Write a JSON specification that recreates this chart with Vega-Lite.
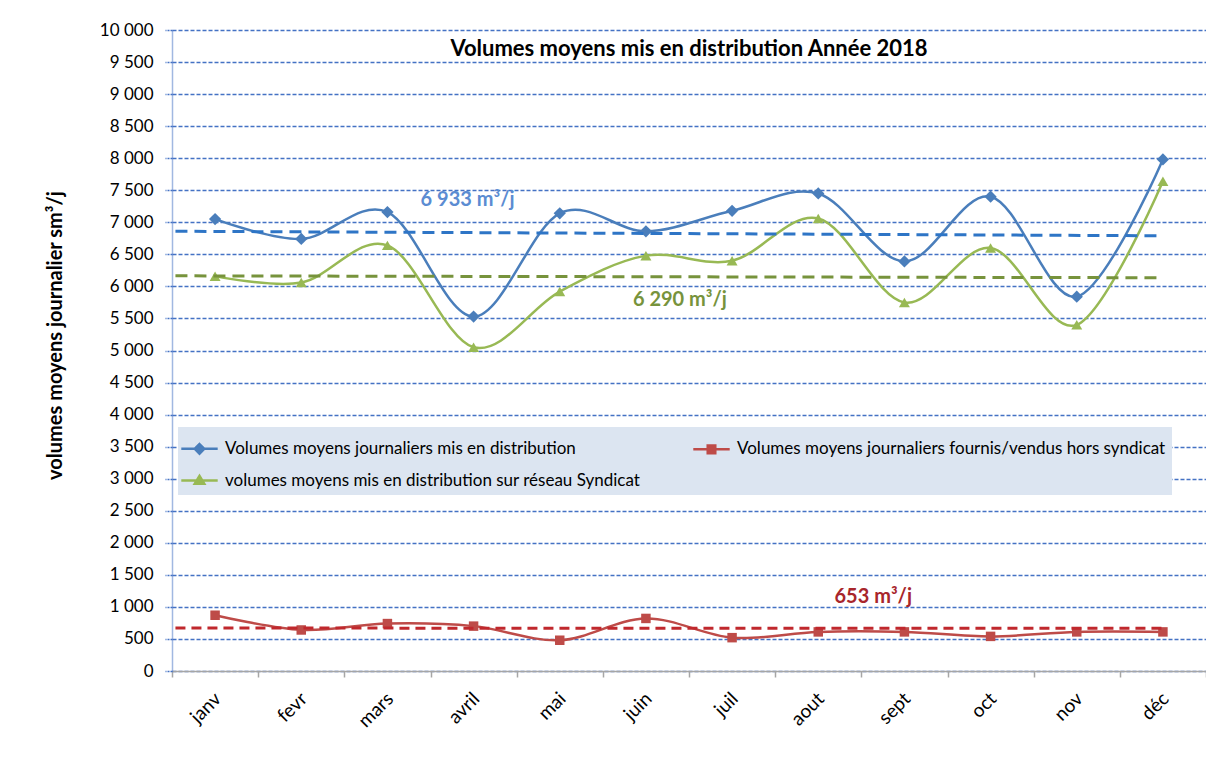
{
  "$schema": "https://vega.github.io/schema/vega-lite/v6.json",
  "autosize": {"type": "none"},
  "padding": {"left": 172, "top": 30, "right": 0, "bottom": 92},
  "width": 1034,
  "height": 641,
  "background": "white",
  "title": {"text": "Volumes moyens mis en distribution Année 2018", "font": "Lato", "fontSize": 22, "fontWeight": "bold", "color": "#000000", "anchor": "middle", "baseline": "alphabetic", "offset": -57},
  "config": {"view": {"stroke": null}},
  "datasets": {
    "main": [
      {"mois": "janv", "serie": "Volumes moyens journaliers mis en distribution", "v": 7050},
      {"mois": "fevr", "serie": "Volumes moyens journaliers mis en distribution", "v": 6740},
      {"mois": "mars", "serie": "Volumes moyens journaliers mis en distribution", "v": 7160},
      {"mois": "avril", "serie": "Volumes moyens journaliers mis en distribution", "v": 5530},
      {"mois": "mai", "serie": "Volumes moyens journaliers mis en distribution", "v": 7140},
      {"mois": "juin", "serie": "Volumes moyens journaliers mis en distribution", "v": 6860},
      {"mois": "juil", "serie": "Volumes moyens journaliers mis en distribution", "v": 7180},
      {"mois": "aout", "serie": "Volumes moyens journaliers mis en distribution", "v": 7450},
      {"mois": "sept", "serie": "Volumes moyens journaliers mis en distribution", "v": 6390},
      {"mois": "oct", "serie": "Volumes moyens journaliers mis en distribution", "v": 7400},
      {"mois": "nov", "serie": "Volumes moyens journaliers mis en distribution", "v": 5840},
      {"mois": "déc", "serie": "Volumes moyens journaliers mis en distribution", "v": 7980},
      {"mois": "janv", "serie": "Volumes moyens journaliers fournis/vendus hors syndicat", "v": 870},
      {"mois": "fevr", "serie": "Volumes moyens journaliers fournis/vendus hors syndicat", "v": 640},
      {"mois": "mars", "serie": "Volumes moyens journaliers fournis/vendus hors syndicat", "v": 740},
      {"mois": "avril", "serie": "Volumes moyens journaliers fournis/vendus hors syndicat", "v": 700},
      {"mois": "mai", "serie": "Volumes moyens journaliers fournis/vendus hors syndicat", "v": 480},
      {"mois": "juin", "serie": "Volumes moyens journaliers fournis/vendus hors syndicat", "v": 820},
      {"mois": "juil", "serie": "Volumes moyens journaliers fournis/vendus hors syndicat", "v": 520},
      {"mois": "aout", "serie": "Volumes moyens journaliers fournis/vendus hors syndicat", "v": 610},
      {"mois": "sept", "serie": "Volumes moyens journaliers fournis/vendus hors syndicat", "v": 610},
      {"mois": "oct", "serie": "Volumes moyens journaliers fournis/vendus hors syndicat", "v": 540},
      {"mois": "nov", "serie": "Volumes moyens journaliers fournis/vendus hors syndicat", "v": 610},
      {"mois": "déc", "serie": "Volumes moyens journaliers fournis/vendus hors syndicat", "v": 610},
      {"mois": "janv", "serie": "volumes moyens mis en distribution sur réseau Syndicat", "v": 6160},
      {"mois": "fevr", "serie": "volumes moyens mis en distribution sur réseau Syndicat", "v": 6060},
      {"mois": "mars", "serie": "volumes moyens mis en distribution sur réseau Syndicat", "v": 6640},
      {"mois": "avril", "serie": "volumes moyens mis en distribution sur réseau Syndicat", "v": 5050},
      {"mois": "mai", "serie": "volumes moyens mis en distribution sur réseau Syndicat", "v": 5920},
      {"mois": "juin", "serie": "volumes moyens mis en distribution sur réseau Syndicat", "v": 6480},
      {"mois": "juil", "serie": "volumes moyens mis en distribution sur réseau Syndicat", "v": 6400},
      {"mois": "aout", "serie": "volumes moyens mis en distribution sur réseau Syndicat", "v": 7060},
      {"mois": "sept", "serie": "volumes moyens mis en distribution sur réseau Syndicat", "v": 5750},
      {"mois": "oct", "serie": "volumes moyens mis en distribution sur réseau Syndicat", "v": 6600},
      {"mois": "nov", "serie": "volumes moyens mis en distribution sur réseau Syndicat", "v": 5400},
      {"mois": "déc", "serie": "volumes moyens mis en distribution sur réseau Syndicat", "v": 7640}
    ],
    "tendance": [
      {"serie": "Volumes moyens journaliers mis en distribution", "mois": "janv", "mois2": "déc", "v": 6860, "v2": 6790},
      {"serie": "volumes moyens mis en distribution sur réseau Syndicat", "mois": "janv", "mois2": "déc", "v": 6165, "v2": 6135},
      {"serie": "Volumes moyens journaliers fournis/vendus hors syndicat", "mois": "janv", "mois2": "déc", "v": 670, "v2": 665}
    ],
    "moyennes": [
      {"serie": "Volumes moyens journaliers mis en distribution", "mois": "avril", "v": 7350, "texte": "6 933 m³/j"},
      {"serie": "volumes moyens mis en distribution sur réseau Syndicat", "mois": "juin", "v": 5790, "texte": "6 290 m³/j"},
      {"serie": "Volumes moyens journaliers fournis/vendus hors syndicat", "mois": "aout", "v": 1160, "texte": "653 m³/j"}
    ]
  },
  "encoding": {
    "x": {"field": "mois", "type": "ordinal", "bandPosition": 0.5,
      "scale": {"type": "band", "domain": ["janv", "fevr", "mars", "avril", "mai", "juin", "juil", "aout", "sept", "oct", "nov", "déc"], "paddingInner": 0, "paddingOuter": 0},
      "axis": {"title": null, "grid": false, "tickBand": "extent", "domainColor": "#A6A6A6", "domainWidth": 1.5, "tickColor": "#A6A6A6", "tickWidth": 1.5, "tickSize": 6, "labelAngle": -45, "labelFont": "Lato", "labelFontSize": 19, "labelColor": "#000000", "labelPadding": 12, "labelOffset": -4}},
    "y": {"field": "v", "type": "quantitative",
      "scale": {"domain": [0, 10000], "nice": false},
      "axis": {"values": [0, 500, 1000, 1500, 2000, 2500, 3000, 3500, 4000, 4500, 5000, 5500, 6000, 6500, 7000, 7500, 8000, 8500, 9000, 9500, 10000],
        "tickCount": 40, "labelOverlap": false,
        "labelExpr": "replace(format(datum.value, ','), ',', ' ')",
        "title": "volumes moyens journalier sm³/j", "titleFont": "Lato", "titleFontSize": 20, "titleFontWeight": "bold", "titleColor": "#000000",
        "titleX": -117, "titleY": 305, "titleAlign": "center", "titleBaseline": "middle", "titleAngle": -90,
        "grid": true, "gridColor": "#4472C4", "gridDash": [4, 2], "gridWidth": 1.3,
        "domainColor": "#4472C4", "domainDash": [1, 1], "domainWidth": 1.5,
        "tickColor": "#4472C4", "tickDash": [2, 1], "tickSize": 7, "tickWidth": 1.3,
        "labelFont": "Lato", "labelFontSize": 17, "labelColor": "#000000", "labelPadding": 12}}
  },
  "layer": [
    {
      "data": {"name": "main"},
      "mark": {"type": "line", "interpolate": "cardinal", "strokeWidth": 2.5},
      "encoding": {
        "color": {"field": "serie", "type": "nominal",
          "scale": {"domain": ["Volumes moyens journaliers mis en distribution", "volumes moyens mis en distribution sur réseau Syndicat", "Volumes moyens journaliers fournis/vendus hors syndicat"], "range": ["#4A7EBB", "#98B954", "#BE4B48"]},
          "legend": {"title": null, "orient": "none", "legendX": 6, "legendY": 397, "columns": 2, "columnPadding": 47, "rowPadding": 6, "padding": 6,
            "fillColor": "#DCE5F1", "symbolSize": 784, "symbolType": "M-1.3,0H1.3", "symbolStrokeWidth": 2.5,
            "labelFont": "Lato", "labelFontSize": 17, "labelColor": "#000000", "labelOffset": 10, "labelLimit": 0,
            "encode": {"symbols": {"update": {
              "shape": {"signal": "indexof(datum.value, 'fournis') >= 0 ? 'M-1.3,0H1.3M-0.27,-0.27H0.27V0.27H-0.27Z' : indexof(datum.value, 'seau') >= 0 ? 'M-1.3,0H1.3M0,-0.32L0.34,0.24H-0.34Z' : 'M-1.3,0H1.3M0,-0.34L0.34,0L0,0.34L-0.34,0Z'"},
              "fill": {"signal": "scale('color', datum.value)"},
              "stroke": {"signal": "scale('color', datum.value)"},
              "strokeWidth": {"value": 2.5},
              "opacity": {"value": 1}}}}}}
      }
    },
    {
      "data": {"name": "main"},
      "transform": [{"filter": "datum.serie === 'Volumes moyens journaliers mis en distribution'"}],
      "mark": {"type": "point", "filled": true, "opacity": 1, "shape": "diamond", "size": 150, "color": "#4A7EBB"}
    },
    {
      "data": {"name": "main"},
      "transform": [{"filter": "datum.serie === 'volumes moyens mis en distribution sur réseau Syndicat'"}],
      "mark": {"type": "point", "filled": true, "opacity": 1, "shape": "triangle-up", "size": 120, "color": "#98B954"}
    },
    {
      "data": {"name": "main"},
      "transform": [{"filter": "datum.serie === 'Volumes moyens journaliers fournis/vendus hors syndicat'"}],
      "mark": {"type": "point", "filled": true, "opacity": 1, "shape": "square", "size": 90, "color": "#BE4B48"}
    },
    {
      "data": {"name": "tendance"},
      "transform": [{"filter": "datum.serie === 'Volumes moyens journaliers mis en distribution'"}],
      "mark": {"type": "rule", "color": "#2E75C6", "strokeWidth": 3, "strokeDash": [12, 7]},
      "encoding": {
        "x": {"field": "mois", "type": "ordinal", "bandPosition": 0.04},
        "x2": {"field": "mois2"},
        "y2": {"field": "v2"}
      }
    },
    {
      "data": {"name": "tendance"},
      "transform": [{"filter": "datum.serie === 'volumes moyens mis en distribution sur réseau Syndicat'"}],
      "mark": {"type": "rule", "color": "#77933C", "strokeWidth": 3, "strokeDash": [12, 7]},
      "encoding": {
        "x": {"field": "mois", "type": "ordinal", "bandPosition": 0.04},
        "x2": {"field": "mois2"},
        "y2": {"field": "v2"}
      }
    },
    {
      "data": {"name": "tendance"},
      "transform": [{"filter": "datum.serie === 'Volumes moyens journaliers fournis/vendus hors syndicat'"}],
      "mark": {"type": "rule", "color": "#C0282D", "strokeWidth": 3, "strokeDash": [10, 6]},
      "encoding": {
        "x": {"field": "mois", "type": "ordinal", "bandPosition": 0.04},
        "x2": {"field": "mois2"},
        "y2": {"field": "v2"}
      }
    },
    {
      "data": {"name": "moyennes"},
      "transform": [{"filter": "datum.serie === 'Volumes moyens journaliers mis en distribution'"}],
      "mark": {"type": "text", "font": "Lato", "fontSize": 20, "fontWeight": "bold", "color": "#5B8CD2", "align": "center", "baseline": "middle", "dx": -6},
      "encoding": {"text": {"field": "texte"}}
    },
    {
      "data": {"name": "moyennes"},
      "transform": [{"filter": "datum.serie === 'volumes moyens mis en distribution sur réseau Syndicat'"}],
      "mark": {"type": "text", "font": "Lato", "fontSize": 20, "fontWeight": "bold", "color": "#77933C", "align": "center", "baseline": "middle", "dx": 34},
      "encoding": {"text": {"field": "texte"}}
    },
    {
      "data": {"name": "moyennes"},
      "transform": [{"filter": "datum.serie === 'Volumes moyens journaliers fournis/vendus hors syndicat'"}],
      "mark": {"type": "text", "font": "Lato", "fontSize": 20, "fontWeight": "bold", "color": "#A8262B", "align": "center", "baseline": "middle", "dx": 55},
      "encoding": {"text": {"field": "texte"}}
    }
  ]
}
